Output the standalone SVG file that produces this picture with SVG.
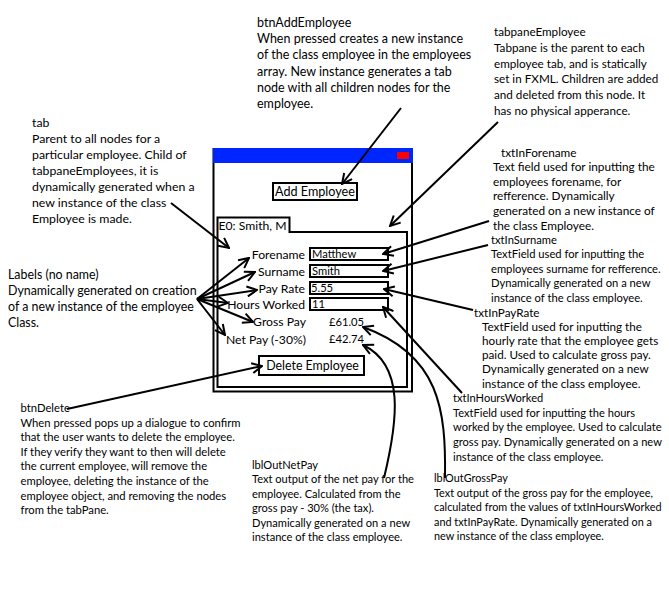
<svg xmlns="http://www.w3.org/2000/svg" width="669" height="600" viewBox="0 0 669 600">
<style>
text{font-family:Lato,"Liberation Sans",sans-serif;fill:#000}
.b1{font-size:12.5px}.b2{font-size:11.7px}.b3{font-size:12.3px}.b4{font-size:12.4px}
.b5{font-size:11.8px}.b6{font-size:11.2px}.b7{font-size:11.7px}.b8{font-size:11.1px}
.b9{font-size:11.25px}.b10{font-size:11.1px}.b11{font-size:10.85px}
.lbl{font-size:12.2px}.val{font-size:11.2px}.btn{font-size:12.4px}
.box{fill:#fff;stroke:#000;stroke-width:2}
.con{fill:none;stroke:#000;stroke-width:2;marker-end:url(#arr)}
</style>
<defs>
<marker id="arr" markerWidth="12" markerHeight="12" refX="11" refY="6" orient="auto" markerUnits="userSpaceOnUse">
<path d="M1,1 L11,6 L1,11" fill="none" stroke="#000" stroke-width="2"/>
</marker>
</defs>
<rect width="669" height="600" fill="#fff"/>

<g id="window">
<rect class="box" x="213.5" y="149" width="198.5" height="242.5"/>
<rect x="213" y="148" width="200" height="15" fill="#0026ff"/>
<rect x="397" y="152" width="12" height="7" fill="#ff0000"/>
</g>
<g id="tabpaneEmployee">
<path class="box" d="M217.5,387 L217.5,217.5 L289.5,217.5 L289.5,232 L407,232 L407,387 Z"/>
</g>
<g id="tab">
<text class="btn" x="218.5" y="229.5" style="font-size:12.2px">E0: Smith, M</text>
</g>
<g id="btnAddEmployee">
<rect class="box" x="273" y="183" width="84" height="17"/>
<text class="btn" x="315" y="196" text-anchor="middle" style="font-size:12.6px">Add Employee</text>
</g>
<g id="labels">
<text class="lbl" x="305" y="258.5" text-anchor="end">Forename</text>
<text class="lbl" x="305" y="276" text-anchor="end">Surname</text>
<text class="lbl" x="305" y="293" text-anchor="end">Pay Rate</text>
<text class="lbl" x="305" y="308.5" text-anchor="end">Hours Worked</text>
<text class="lbl" x="306" y="326" text-anchor="end">Gross Pay</text>
<text class="lbl" x="306" y="343.5" text-anchor="end">Net Pay (-30%)</text>
</g>
<g id="txtInForename">
<rect class="box" x="310" y="248" width="78" height="12"/>
<text class="val" x="312" y="258">Matthew</text>
</g>
<g id="txtInSurname">
<rect class="box" x="310" y="265" width="78" height="12"/>
<text class="val" x="312" y="275">Smith</text>
</g>
<g id="txtInPayRate">
<rect class="box" x="310" y="282" width="78" height="12"/>
<text class="val" x="311" y="292">5.55</text>
</g>
<g id="txtInHoursWorked">
<rect class="box" x="310" y="298" width="78" height="12"/>
<text class="val" x="312" y="308">11</text>
</g>
<g id="lblOutGrossPay">
<text class="val" x="329" y="326">£61.05</text>
</g>
<g id="lblOutNetPay">
<text class="val" x="329" y="343">£42.74</text>
</g>
<g id="btnDelete">
<rect class="box" x="259" y="356" width="105" height="19"/>
<text class="btn" x="312.5" y="370" text-anchor="middle">Delete Employee</text>
</g>

<g id="notes">
<text class="b1" x="257"><tspan x="257" y="27">btnAddEmployee</tspan><tspan x="257" y="43.2">When pressed creates a new instance</tspan><tspan x="257" y="59.4">of the class employee in the employees</tspan><tspan x="257" y="75.6">array. New instance generates a tab</tspan><tspan x="257" y="91.8">node with all children nodes for the</tspan><tspan x="257" y="108">employee.</tspan></text>
<text class="b2" x="494"><tspan x="494" y="36">tabpaneEmployee</tspan><tspan x="494" y="51.8">Tabpane is the parent to each</tspan><tspan x="494" y="67.6">employee tab, and is statically</tspan><tspan x="494" y="83.4">set in FXML. Children are added</tspan><tspan x="494" y="99.2">and deleted from this node. It</tspan><tspan x="494" y="115">has no physical apperance.</tspan></text>
<text class="b3" x="32"><tspan x="32" y="126.5">tab</tspan><tspan x="32" y="142.5">Parent to all nodes for a</tspan><tspan x="32" y="158.5">particular employee. Child of</tspan><tspan x="32" y="174.5">tabpaneEmployees, it is</tspan><tspan x="32" y="190.5">dynamically generated when a</tspan><tspan x="32" y="206.5">new instance of the class</tspan><tspan x="32" y="222.5">Employee is made.</tspan></text>
<text class="b4" x="8"><tspan x="8" y="279">Labels (no name)</tspan><tspan x="8" y="295">Dynamically generated on creation</tspan><tspan x="8" y="311">of a new instance of the employee</tspan><tspan x="8" y="327">Class.</tspan></text>
<text class="b5" x="501"><tspan x="501" y="156.5">txtInForename</tspan><tspan x="493" y="171.1">Text field used for inputting the</tspan><tspan x="493" y="185.7">employees forename, for</tspan><tspan x="493" y="200.3">refference. Dynamically</tspan><tspan x="493" y="214.9">generated on a new instance of</tspan><tspan x="493" y="229.5">the class Employee.</tspan></text>
<text class="b6" x="491"><tspan x="491" y="243.5">txtInSurname</tspan><tspan x="491" y="258">TextField used for inputting the</tspan><tspan x="491" y="272.5">employees surname for refference.</tspan><tspan x="491" y="287">Dynamically generated on a new</tspan><tspan x="491" y="301.5">instance of the class employee.</tspan></text>
<text class="b7" x="474"><tspan x="474" y="316.5">txtInPayRate</tspan><tspan x="482" y="330.7">TextField used for inputting the</tspan><tspan x="482" y="344.9">hourly rate that the employee gets</tspan><tspan x="482" y="359.1">paid.  Used to calculate gross pay.</tspan><tspan x="482" y="373.3">Dynamically generated on a new</tspan><tspan x="482" y="387.5">instance of the class employee.</tspan></text>
<text class="b8" x="453"><tspan x="453" y="402">txtInHoursWorked</tspan><tspan x="453" y="416.7">TextField used for inputting the hours</tspan><tspan x="453" y="431.4">worked by the employee. Used to calculate</tspan><tspan x="453" y="446.1">gross pay. Dynamically generated on a new</tspan><tspan x="453" y="460.8">instance of the class employee.</tspan></text>
<text class="b9" x="20.5"><tspan x="20.5" y="412">btnDelete</tspan><tspan x="20.5" y="426.6">When pressed pops up a dialogue to confirm</tspan><tspan x="20.5" y="441.2">that the user wants to delete the employee.</tspan><tspan x="20.5" y="455.8">If they verify they want to then will delete</tspan><tspan x="20.5" y="470.4">the current employee, will remove the</tspan><tspan x="20.5" y="485">employee, deleting the instance of the</tspan><tspan x="20.5" y="499.6">employee object, and removing the nodes</tspan><tspan x="20.5" y="514.2">from the tabPane.</tspan></text>
<text class="b10" x="252"><tspan x="252" y="468.5">lblOutNetPay</tspan><tspan x="252" y="483">Text output of the net pay for the</tspan><tspan x="252" y="497.5">employee. Calculated from the</tspan><tspan x="252" y="512">gross pay - 30% (the tax).</tspan><tspan x="252" y="526.5">Dynamically generated on a new</tspan><tspan x="252" y="541">instance of the class employee.</tspan></text>
<text class="b11" x="434"><tspan x="434" y="482">lblOutGrossPay</tspan><tspan x="434" y="496.5">Text output of the gross pay for the employee,</tspan><tspan x="434" y="511">calculated from the values of txtInHoursWorked</tspan><tspan x="434" y="525.5">and txtInPayRate. Dynamically generated on a</tspan><tspan x="434" y="540">new instance of the class employee.</tspan></text>
</g>

<g id="connectors">
<path class="con" d="M401,108 L342,184"/>
<path class="con" d="M498,122 L390,226"/>
<path class="con" d="M171,203 L229,248"/>
<path class="con" d="M197,299 L249,258"/>
<path class="con" d="M197,299 L255,272"/>
<path class="con" d="M197,299 L257,290"/>
<path class="con" d="M197,299 L228,303"/>
<path class="con" d="M197,299 L253,322"/>
<path class="con" d="M197,299 L225,335"/>
<path class="con" d="M489,221 L383,254"/>
<path class="con" d="M488,245 L383,271"/>
<path class="con" d="M473,310 L384,289"/>
<path class="con" d="M462,393 L383,307"/>
<path class="con" d="M445,478 C446,410 440,355 363,327"/>
<path class="con" d="M384,478 C398,420 405,365 363,345"/>
<path class="con" d="M67,409 L262,366"/>
</g>
</svg>
